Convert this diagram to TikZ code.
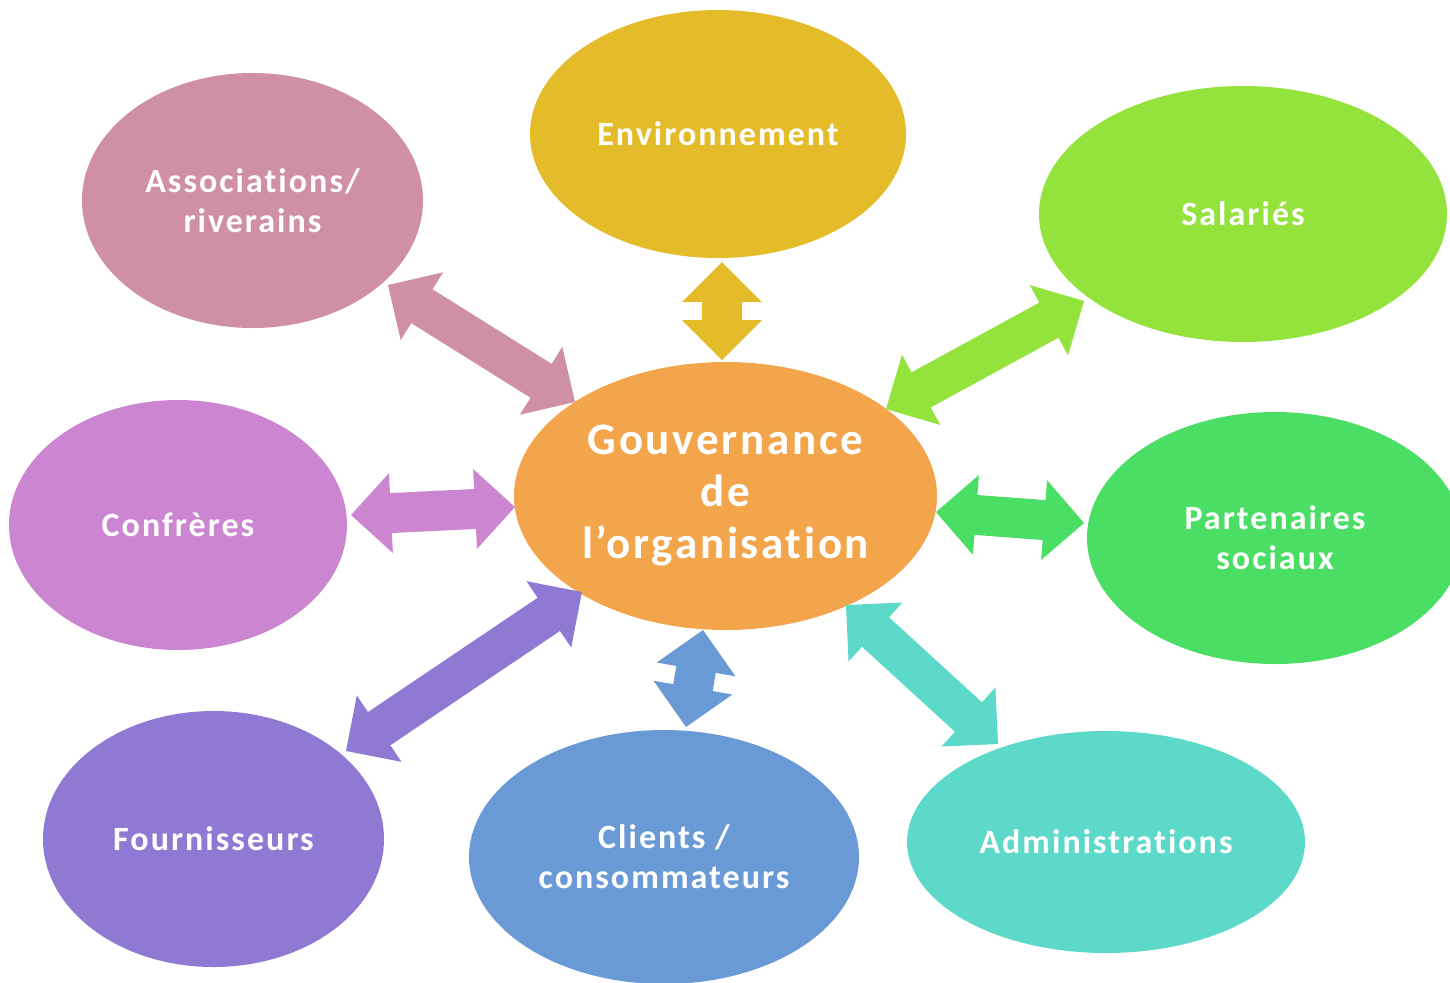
\documentclass[tikz,border=0pt]{standalone}
\usepackage{fontspec}
\setmainfont{Carlito}[Ligatures=NoCommon,LetterSpace=6]
\usetikzlibrary{calc,shapes.geometric}
\definecolor{cgov}{HTML}{F2A54A}
\definecolor{cenv}{HTML}{E4BC2A}
\definecolor{casso}{HTML}{CF90A4}
\definecolor{csal}{HTML}{94E23C}
\definecolor{cconf}{HTML}{CB85D1}
\definecolor{cpart}{HTML}{4BDE65}
\definecolor{cfour}{HTML}{8F79D3}
\definecolor{ccli}{HTML}{6A9AD6}
\definecolor{cadm}{HTML}{5CD9C9}
% double block arrow between (#1-a) and (#1-b), colour #2
\newcommand\dblarrow[2]{%
  \coordinate (#1-ha) at ($(#1-a)!20pt!(#1-b)$);
  \coordinate (#1-hb) at ($(#1-b)!20pt!(#1-a)$);
  \fill[#2] (#1-a)
    -- ($(#1-ha)!20pt!90:(#1-b)$) -- ($(#1-ha)!10pt!90:(#1-b)$)
    -- ($(#1-hb)!10pt!-90:(#1-a)$) -- ($(#1-hb)!20pt!-90:(#1-a)$)
    -- (#1-b)
    -- ($(#1-hb)!20pt!90:(#1-a)$) -- ($(#1-hb)!10pt!90:(#1-a)$)
    -- ($(#1-ha)!10pt!-90:(#1-b)$) -- ($(#1-ha)!20pt!-90:(#1-b)$)
    -- cycle;}
\begin{document}
\begin{tikzpicture}[x=0.5pt,y=-0.5pt,
  bubble/.style={ellipse, fill=#1, draw=none, inner sep=0pt, text=white,
    font=\bfseries\fontsize{17}{20}\selectfont, align=center},
]
\useasboundingbox (0,0) rectangle (1450,982);
% bubbles
\node[bubble=cgov, minimum width=211.5pt, minimum height=134pt,
  font=\bfseries\fontsize{22.5}{26}\selectfont] (gov) at (725.5,496) {Gouvernance\\de\\l’organisation};
\node[bubble=cenv, minimum width=188pt, minimum height=124pt] (env) at (718,134) {Environnement};
\node[bubble=casso, minimum width=170.5pt, minimum height=127.5pt] (asso) at (252.5,200.5) {Associations/\\riverains};
\node[bubble=csal, minimum width=204pt, minimum height=128pt] (sal) at (1243,214) {Salariés};
\node[bubble=cconf, minimum width=169pt, minimum height=125pt] (conf) at (178,525) {Confrères};
\node[bubble=cpart, minimum width=188pt, minimum height=126pt] (part) at (1275,538) {Partenaires\\sociaux};
\node[bubble=cfour, minimum width=170.5pt, minimum height=128pt] (four) at (213.5,839) {Fournisseurs};
\node[bubble=ccli, minimum width=195pt, minimum height=127pt] (cli) at (664,857) {Clients /\\consommateurs};
\node[bubble=cadm, minimum width=199pt, minimum height=111pt] (adm) at (1106,842) {Administrations};
% arrow ends
\coordinate (env-a) at (722,262);  \coordinate (env-b) at (722,360);
\coordinate (asso-a) at (388,285); \coordinate (asso-b) at (575,402);
\coordinate (sal-a) at (1084,301); \coordinate (sal-b) at (886,409);
\coordinate (conf-a) at (351,515); \coordinate (conf-b) at (515,507);
\coordinate (part-a) at (936,512); \coordinate (part-b) at (1084,523);
\coordinate (four-a) at (582,592); \coordinate (four-b) at (346,751);
\coordinate (cli-a) at (703,630);  \coordinate (cli-b) at (686,727);
\coordinate (adm-a) at (846,605);  \coordinate (adm-b) at (998,744);
% arrows
\dblarrow{env}{cenv}
\dblarrow{asso}{casso}
\dblarrow{sal}{csal}
\dblarrow{conf}{cconf}
\dblarrow{part}{cpart}
\dblarrow{four}{cfour}
\dblarrow{cli}{ccli}
\dblarrow{adm}{cadm}
\end{tikzpicture}
\end{document}
